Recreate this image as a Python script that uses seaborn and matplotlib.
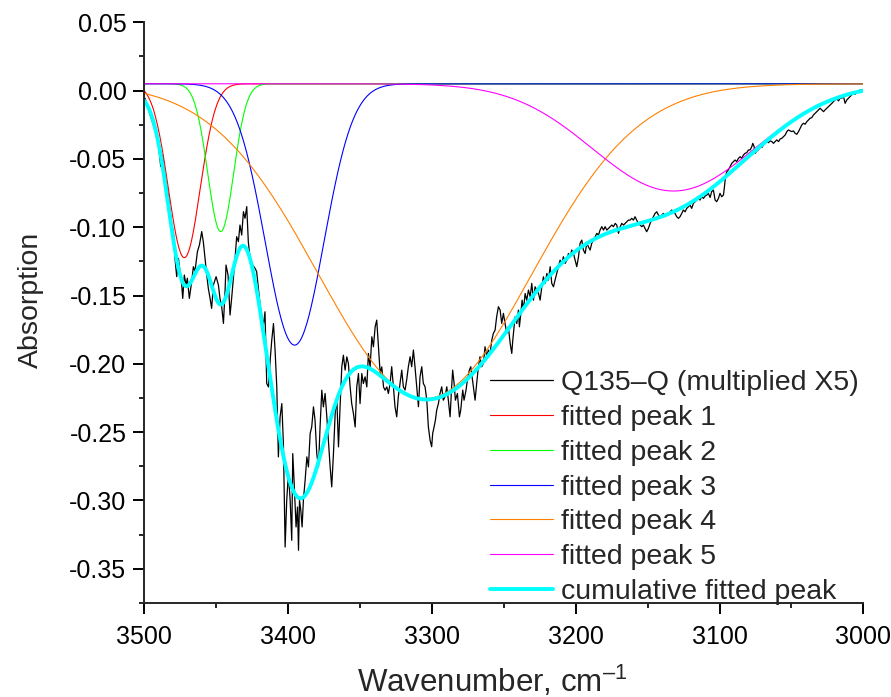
import numpy as np
import pandas as pd
import matplotlib
matplotlib.use("Agg")
import matplotlib.pyplot as plt
from matplotlib.ticker import MultipleLocator, FormatStrFormatter
import seaborn as sns

wavenumber = [
    3499.5, 3496.0, 3492.6, 3490.3, 3488.6, 3487.2, 3485.6, 3483.3, 3481.0, 3479.8,
    3478.7, 3477.5, 3476.3, 3475.2, 3474.0, 3473.3, 3472.2, 3471.0, 3470.1, 3468.7,
    3467.1, 3465.9, 3464.8, 3463.1, 3461.7, 3460.1, 3459.0, 3457.8, 3456.6, 3455.5,
    3454.3, 3453.2, 3452.0, 3450.1, 3448.5, 3447.4, 3446.2, 3445.0, 3443.9, 3443.2,
    3441.8, 3440.4, 3439.3, 3438.1, 3436.9, 3435.8, 3434.6, 3433.5, 3432.3, 3431.1,
    3430.0, 3428.8, 3427.7, 3426.5, 3424.7, 3423.0, 3421.9, 3420.7, 3419.5, 3418.4,
    3417.2, 3416.1, 3414.9, 3413.7, 3412.5, 3411.4, 3410.2, 3409.1, 3407.9, 3406.8,
    3405.6, 3404.4, 3403.3, 3402.1, 3401.0, 3399.8, 3398.6, 3397.5, 3396.8, 3395.9,
    3394.5, 3393.5, 3392.8, 3392.1, 3391.2, 3390.3, 3389.4, 3388.2, 3387.0, 3385.9,
    3384.7, 3383.6, 3382.4, 3381.3, 3380.1, 3378.9, 3377.8, 3376.6, 3375.5, 3374.3,
    3373.1, 3372.0, 3370.8, 3369.7, 3368.5, 3367.3, 3366.2, 3365.0, 3363.9, 3362.7,
    3361.6, 3360.4, 3359.2, 3358.1, 3356.9, 3355.8, 3354.6, 3353.4, 3352.3, 3351.1,
    3350.0, 3348.8, 3347.7, 3346.5, 3345.3, 3344.2, 3343.0, 3341.8, 3340.7, 3339.5,
    3338.4, 3337.2, 3336.0, 3334.9, 3333.7, 3332.6, 3331.4, 3330.3, 3329.1, 3328.0,
    3326.8, 3325.7, 3324.5, 3323.4, 3322.2, 3321.0, 3319.9, 3318.7, 3317.6, 3316.4,
    3315.2, 3314.1, 3312.9, 3311.8, 3310.6, 3309.4, 3308.3, 3307.1, 3306.0, 3304.8,
    3303.6, 3302.5, 3301.3, 3300.2, 3299.5, 3298.5, 3297.6, 3296.7, 3295.5, 3294.4,
    3293.2, 3292.1, 3290.9, 3289.7, 3288.6, 3287.4, 3286.3, 3285.6, 3284.6, 3283.7,
    3282.3, 3280.9, 3280.0, 3278.6, 3277.7, 3276.3, 3275.4, 3274.0, 3273.0, 3272.1,
    3271.2, 3270.0, 3268.9, 3267.7, 3266.6, 3265.4, 3264.2, 3263.1, 3261.9, 3260.8,
    3259.6, 3258.4, 3257.3, 3256.1, 3255.0, 3253.8, 3252.6, 3251.5, 3250.3, 3249.2,
    3248.0, 3246.9, 3245.6, 3244.5, 3243.8, 3242.9, 3242.2, 3241.0, 3239.9, 3239.2,
    3238.2, 3237.3, 3236.4, 3235.2, 3234.1, 3232.9, 3231.7, 3230.6, 3229.4, 3228.3,
    3227.1, 3225.9, 3224.8, 3223.6, 3222.5, 3221.3, 3220.1, 3219.0, 3217.8, 3216.7,
    3215.5, 3214.4, 3213.2, 3212.0, 3210.9, 3209.7, 3208.6, 3207.4, 3206.2, 3205.1,
    3203.9, 3202.8, 3201.6, 3200.4, 3199.3, 3198.1, 3197.0, 3195.8, 3194.7, 3193.5,
    3192.3, 3191.2, 3190.0, 3188.9, 3187.7, 3186.5, 3185.4, 3184.2, 3183.1, 3181.9,
    3180.7, 3179.6, 3178.4, 3177.3, 3176.1, 3174.9, 3173.8, 3172.6, 3171.5, 3170.3,
    3169.1, 3168.0, 3166.8, 3165.7, 3164.5, 3163.4, 3162.2, 3161.1, 3159.9, 3158.8,
    3157.6, 3156.5, 3155.3, 3154.1, 3153.0, 3151.8, 3150.7, 3149.5, 3148.3, 3147.2,
    3146.0, 3144.9, 3143.7, 3142.5, 3141.4, 3140.2, 3139.1, 3137.9, 3136.7, 3135.6,
    3134.4, 3133.3, 3132.1, 3131.0, 3129.8, 3128.6, 3127.5, 3126.3, 3125.2, 3124.0,
    3122.8, 3121.7, 3120.5, 3119.4, 3118.2, 3117.0, 3115.9, 3114.7, 3113.6, 3112.4,
    3111.2, 3110.1, 3108.9, 3107.8, 3106.6, 3105.5, 3104.3, 3103.1, 3102.0, 3100.8,
    3099.7, 3098.5, 3097.3, 3096.6, 3095.9, 3095.0, 3093.9, 3092.7, 3091.5, 3090.4,
    3089.2, 3088.1, 3086.9, 3085.7, 3084.6, 3083.4, 3082.3, 3081.1, 3080.0, 3078.7,
    3077.6, 3076.9, 3076.0, 3075.3, 3074.1, 3073.0, 3071.8, 3070.6, 3069.5, 3068.3,
    3067.2, 3066.0, 3064.8, 3063.7, 3062.5, 3061.4, 3060.2, 3059.0, 3057.9, 3056.7,
    3055.6, 3054.4, 3053.2, 3052.1, 3050.9, 3049.8, 3048.6, 3047.5, 3046.3, 3045.1,
    3044.0, 3042.8, 3041.7, 3040.5, 3039.3, 3038.2, 3037.0, 3035.9, 3034.7, 3033.5,
    3032.4, 3031.2, 3030.1, 3028.9, 3027.7, 3026.6, 3025.4, 3024.3, 3023.1, 3021.9,
    3020.8, 3019.6, 3018.5, 3017.3, 3016.2, 3015.0, 3013.8, 3012.7, 3011.5, 3010.4,
    3009.2, 3008.2, 3006.9, 3005.7, 3004.6, 3003.4, 3002.2, 3001.1, 3000.0,
]
absorption = [
    -0.0056, -0.0178, -0.0288, -0.0385, -0.0556, -0.0471, -0.0617, -0.0764, -0.0984, -0.1032,
    -0.1228, -0.1362, -0.1228, -0.1325, -0.1423, -0.1521, -0.1350, -0.1423, -0.1374, -0.1521,
    -0.1399, -0.1289, -0.1325, -0.1179, -0.1130, -0.1032, -0.1106, -0.1228, -0.1350, -0.1448,
    -0.1521, -0.1594, -0.1423, -0.1362, -0.1423, -0.1521, -0.1582, -0.1704, -0.1472, -0.1277,
    -0.1350, -0.1643, -0.1521, -0.1374, -0.1228, -0.1069, -0.1106, -0.0984, -0.1057, -0.0886,
    -0.0935, -0.0849, -0.1106, -0.1228, -0.1277, -0.1301, -0.1325, -0.1448, -0.1570, -0.1643,
    -0.1716, -0.1619, -0.2144, -0.2169, -0.1973, -0.1827, -0.1705, -0.1900, -0.2169, -0.2681,
    -0.2388, -0.2291, -0.2584, -0.3341, -0.2999, -0.2803, -0.2999, -0.3292, -0.2657, -0.2852,
    -0.3194, -0.3048, -0.3365, -0.2999, -0.3072, -0.3194, -0.2999, -0.2852, -0.2681, -0.2755,
    -0.2510, -0.2462, -0.2315, -0.2413, -0.2657, -0.2755, -0.2462, -0.2193, -0.2315, -0.2217,
    -0.2388, -0.2559, -0.2755, -0.2901, -0.2657, -0.2364, -0.2242, -0.2608, -0.2315, -0.2022,
    -0.1937, -0.2046, -0.1949, -0.1998, -0.2169, -0.2291, -0.2364, -0.2462, -0.2169, -0.2071,
    -0.2291, -0.2071, -0.2144, -0.2095, -0.2169, -0.1924, -0.2022, -0.1802, -0.1875, -0.1729,
    -0.1680, -0.1875, -0.2071, -0.2022, -0.2169, -0.2193, -0.2169, -0.2217, -0.2143, -0.2021,
    -0.2168, -0.2314, -0.2388, -0.2241, -0.2143, -0.2046, -0.2168, -0.2192, -0.2119, -0.2021,
    -0.1948, -0.2021, -0.1899, -0.2021, -0.2168, -0.2314, -0.2095, -0.2021, -0.2143, -0.2168,
    -0.2266, -0.2461, -0.2559, -0.2607, -0.2510, -0.2461, -0.2412, -0.2339, -0.2290, -0.2217,
    -0.2168, -0.2266, -0.2241, -0.2168, -0.2266, -0.2388, -0.2168, -0.2046, -0.2143, -0.2266,
    -0.2217, -0.2388, -0.2339, -0.2192, -0.2266, -0.2192, -0.2119, -0.2046, -0.2021, -0.2095,
    -0.2168, -0.2266, -0.2143, -0.2021, -0.1948, -0.2021, -0.1997, -0.1875, -0.1948, -0.1899,
    -0.1924, -0.1826, -0.1777, -0.1753, -0.1655, -0.1582, -0.1606, -0.1704, -0.1631, -0.1704,
    -0.1777, -0.1728, -0.1851, -0.1924, -0.1827, -0.1729, -0.1656, -0.1705, -0.1607, -0.1729,
    -0.1631, -0.1534, -0.1607, -0.1485, -0.1534, -0.1460, -0.1509, -0.1411, -0.1534, -0.1436,
    -0.1460, -0.1485, -0.1534, -0.1436, -0.1363, -0.1411, -0.1338, -0.1387, -0.1289, -0.1411,
    -0.1436, -0.1387, -0.1338, -0.1289, -0.1241, -0.1265, -0.1216, -0.1265, -0.1241, -0.1192,
    -0.1216, -0.1167, -0.1192, -0.1241, -0.1289, -0.1216, -0.1118, -0.1094, -0.1167, -0.1192,
    -0.1118, -0.1143, -0.1167, -0.1118, -0.1094, -0.1070, -0.1045, -0.1057, -0.1021, -0.0996,
    -0.1021, -0.0996, -0.1021, -0.1009, -0.0996, -0.0984, -0.0996, -0.0972, -0.0984, -0.1045,
    -0.0996, -0.0972, -0.0984, -0.0972, -0.0960, -0.0948, -0.0948, -0.0935, -0.0948, -0.0923,
    -0.0948, -0.0972, -0.0984, -0.0996, -0.0984, -0.1009, -0.1033, -0.1009, -0.0972, -0.0948,
    -0.0923, -0.0899, -0.0887, -0.0911, -0.0923, -0.0911, -0.0899, -0.0923, -0.0911, -0.0899,
    -0.0887, -0.0874, -0.0887, -0.0899, -0.0923, -0.0935, -0.0923, -0.0899, -0.0874, -0.0887,
    -0.0862, -0.0850, -0.0838, -0.0862, -0.0826, -0.0813, -0.0801, -0.0789, -0.0801, -0.0777,
    -0.0789, -0.0772, -0.0764, -0.0752, -0.0782, -0.0740, -0.0728, -0.0801, -0.0813, -0.0789,
    -0.0752, -0.0777, -0.0764, -0.0703, -0.0630, -0.0594, -0.0581, -0.0557, -0.0532, -0.0520,
    -0.0508, -0.0520, -0.0496, -0.0484, -0.0496, -0.0471, -0.0459, -0.0454, -0.0435, -0.0434,
    -0.0410, -0.0386, -0.0410, -0.0459, -0.0442, -0.0434, -0.0410, -0.0417, -0.0398, -0.0386,
    -0.0373, -0.0381, -0.0368, -0.0373, -0.0386, -0.0373, -0.0361, -0.0373, -0.0354, -0.0349,
    -0.0337, -0.0325, -0.0300, -0.0288, -0.0295, -0.0300, -0.0295, -0.0312, -0.0320, -0.0300,
    -0.0276, -0.0251, -0.0239, -0.0246, -0.0227, -0.0215, -0.0202, -0.0198, -0.0178, -0.0166,
    -0.0154, -0.0141, -0.0129, -0.0141, -0.0154, -0.0141, -0.0129, -0.0117, -0.0105, -0.0093,
    -0.0080, -0.0068, -0.0061, -0.0075, -0.0056, -0.0056, -0.0044, -0.0093, -0.0068, -0.0056,
    -0.0044, -0.0032, -0.0019, -0.0027, -0.0012, -0.0007, 0.0005, 0.0005, 0.0005,
]

# fitted Gaussian peaks (centre, sigma, depth)
baseline = 0.005
peak_centers = [3472.2, 3446.9, 3395.5, 3304.7, 3132.0]
peak_sigmas = [11.0, 9.0, 20.4, 74.0, 56.2]
peak_depths = [-0.1273, -0.1082, -0.1913, -0.2304, -0.0785]
peak_labels = ["fitted peak 1", "fitted peak 2", "fitted peak 3",
               "fitted peak 4", "fitted peak 5"]
peak_colors = ["#FF0000", "#00FF00", "#0000FF", "#FF8000", "#FF00FF"]

sns.set_style("ticks")
plt.rcParams["font.family"] = ["Liberation Sans", "DejaVu Sans"]
plt.rcParams["mathtext.fontset"] = "custom"
plt.rcParams["mathtext.rm"] = "Liberation Sans"
plt.rcParams["mathtext.it"] = "Liberation Sans"
plt.rcParams["axes.unicode_minus"] = False

fig = plt.figure(figsize=(8.91, 6.97), dpi=100)
ax = fig.add_axes([0.162, 0.135, 0.807, 0.833])

sns.lineplot(x=wavenumber, y=absorption, color="black", lw=0.9, sort=False,
             estimator=None, label="Q135\u2013Q (multiplied X5)", ax=ax)

grid = np.linspace(3000, 3500, 1001)
total = np.full_like(grid, baseline)
for c, s, a, lab, col in zip(peak_centers, peak_sigmas, peak_depths, peak_labels, peak_colors):
    comp = a * np.exp(-(grid - c) ** 2 / (2 * s ** 2))
    total += comp
    fit_df = pd.DataFrame({"x": grid, "y": baseline + comp})
    sns.lineplot(data=fit_df, x="x", y="y", color=col, lw=0.8, label=lab, ax=ax)

sum_df = pd.DataFrame({"x": grid, "y": total})
sns.lineplot(data=sum_df, x="x", y="y", color="#00FFFF", lw=2.8,
             label="cumulative fitted peak", ax=ax)

ax.set_xlim(3500, 3000)
ax.set_ylim(-0.375, 0.05)
ax.xaxis.set_major_locator(MultipleLocator(100))
ax.xaxis.set_minor_locator(MultipleLocator(50))
ax.yaxis.set_major_locator(MultipleLocator(0.05))
ax.yaxis.set_minor_locator(MultipleLocator(0.025))
ax.yaxis.set_major_formatter(FormatStrFormatter("%.2f"))

for side in ["top", "right"]:
    ax.spines[side].set_visible(False)
for side in ["left", "bottom"]:
    ax.spines[side].set_linewidth(1.4)
ax.tick_params(which="major", direction="out", length=7.9, width=1.4,
               labelsize=18, colors="black")
ax.tick_params(which="minor", direction="out", length=3.6, width=1.4)
ax.tick_params(axis="x", pad=8)
ax.tick_params(axis="y", pad=5)

ax.set_xlabel("Wavenumber, cm$^{\u2013 1}$", fontsize=22.5)
ax.xaxis.set_label_coords(0.484, -0.104)
ax.set_ylabel("Absorption", fontsize=20.5)
ax.yaxis.set_label_coords(-0.139, 0.522)

ax.legend(loc="upper left", bbox_to_anchor=(0.481, 0.401), frameon=False,
          fontsize=20.5, handlelength=2.2, handletextpad=0.3, labelspacing=0.31,
          borderpad=0, borderaxespad=0)

fig.savefig("out.png", dpi=100)
